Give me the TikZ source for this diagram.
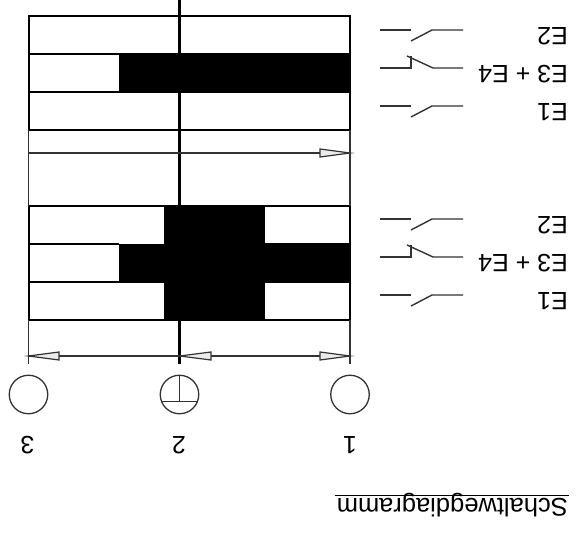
\documentclass[tikz,border=0pt]{standalone}
\usepackage{fontspec}
\setmainfont{Liberation Sans}
\tikzset{
  cell/.style={draw=black,line width=2pt,fill=white},
  thick line/.style={draw=black,line width=1.9pt},
  centre line/.style={draw=black,line width=2.4pt},
  thin line/.style={draw=black!80,line width=1.2pt},
  sym/.style={draw=black!80,line width=1.4pt},
  blk/.style={fill=black,draw=black,line width=0.6pt},
  tip/.style={draw=black!80,fill=black!8,line width=1.2pt,line join=miter},
  stopcircle/.style={circle,draw=black!80,line width=1.3pt,minimum size=38.5pt,inner sep=0pt},
  lab/.style={rotate=180,font=\fontsize{25}{25}\selectfont,inner sep=0pt,text=black,anchor=base west},
  num/.style={rotate=180,font=\fontsize{25}{25}\selectfont,inner sep=0pt,text=black},
  ttl/.style={rotate=180,font=\fontsize{25.5}{25.5}\selectfont,inner sep=0pt,text=black,anchor=base west}
}
\newcommand{\contactNO}[1]{%
  \draw[sym] (380,#1) -- (411,#1);
  \draw[sym] (411,#1+11) -- (432,#1) -- (463,#1);
}
\newcommand{\contactNC}[1]{%
  \draw[sym] (380,#1) -- (411,#1) -- (411,#1-11.5);
  \draw[sym] (407,#1-12) -- (433,#1) -- (463,#1);
}
\newcommand{\tipR}[1]{\draw[tip] (350,#1) -- (320,#1-4) -- (320,#1+4) -- cycle;}
\begin{document}
\begin{tikzpicture}[x=1pt,y=-1pt]
\useasboundingbox (0,0) rectangle (576,534);
% upper diagram
\draw[cell] (28.5,16) rectangle (350,130);
\fill[blk] (119,54) rectangle (350,92);
\draw[thick line] (28.5,54) -- (350,54);
\draw[thick line] (28.5,92) -- (350,92);
% lower diagram
\fill[blk] (164,206) rectangle (264,320);
\fill[blk] (119,244) rectangle (350,282);
\draw[cell,fill=none] (28.5,206) rectangle (350,320);
\draw[thick line] (28.5,244) -- (119,244);
\draw[thick line] (28.5,282) -- (164,282);
\draw[thick line] (264,244) -- (350,244);
\draw[thick line] (264,282) -- (350,282);
% uprights
\draw[thin line] (28.5,130) -- (28.5,206);
\draw[thin line] (350,130) -- (350,206);
\draw[thin line] (28.5,320) -- (28.5,364);
\draw[thin line] (350,320) -- (350,364);
\draw[centre line] (179.5,0) -- (179.5,364);
% travel arrows
\draw[thin line] (28.5,153) -- (350,153);
\tipR{153}
\draw[thin line] (28.5,356) -- (350,356);
\tipR{356}
\draw[tip] (28.5,356) -- (59,352) -- (59,360) -- cycle;
\draw[tip] (179.5,356) -- (211,352) -- (211,360) -- cycle;
% switch positions
\node[stopcircle] (p3) at (28.5,394.5) {};
\node[stopcircle] (p2) at (179.5,394.5) {};
\node[stopcircle] (p1) at (350,394.5) {};
\draw[sym] (p2.north) -- (179.5,401.7);
\draw[sym] (161.5,401.7) -- (197.5,401.7);
\node[num] (n3) at (27.5,445) {3};
\node[num] (n2) at (179,445) {2};
\node[num] (n1) at (350,445) {1};
% contact symbols
\contactNO{30}
\contactNC{68}
\contactNO{106}
\contactNO{219}
\contactNC{257}
\contactNO{295}
% labels
\node[lab] (e2a) at (568,28) {E2};
\node[lab] (e34a) at (568,66) {E3 + E4};
\node[lab] (e1a) at (568,104) {E1};
\node[lab] (e2b) at (568,217) {E2};
\node[lab] (e34b) at (568,254.5) {E3 + E4};
\node[lab] (e1b) at (568,292.5) {E1};
\node[ttl] (title) at (568,499) {Schaltwegdiagramm};
\draw[draw=black,line width=1.3pt] (334.5,495.5) -- (569,495.5);
\end{tikzpicture}
\end{document}
